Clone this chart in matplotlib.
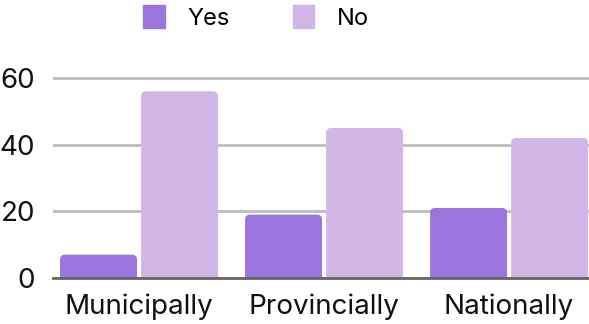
import numpy as np
import matplotlib
matplotlib.use("Agg")
import matplotlib.pyplot as plt
from matplotlib.patches import FancyBboxPatch, Patch

categories = ["Municipally", "Provincially", "Nationally"]
yes_values = [7, 19, 21]
no_values = [56, 45, 42]
series_names = ["Yes", "No"]
colors = ["#9a75dd", "#d2b7e6"]

plt.rcParams["font.family"] = ["Inter", "DejaVu Sans"]

fig = plt.figure(figsize=(5.89, 3.24), dpi=100)
ax = fig.add_axes([53 / 589, 46 / 324, 536 / 589, 216 / 324])

x = np.arange(len(categories))
width = 0.416
gap = 0.022
ax.set_xlim(-0.465, 2.432)
ax.set_ylim(0, 64.8)

# px per unit, to keep the corner rounding round
x_px = 536 / (2.432 + 0.465)
y_px = 216 / 64.8
aspect = x_px / y_px
r = 5 / x_px

for vals, off, col in [(yes_values, -(width + gap) / 2, colors[0]),
                       (no_values, (width + gap) / 2, colors[1])]:
    bars = ax.bar(x + off, vals, width, color=col, alpha=0)
    for b in bars:
        p = FancyBboxPatch((b.get_x(), -3), b.get_width(), b.get_height() + 3,
                           boxstyle=f"round,pad=0,rounding_size={r}",
                           mutation_aspect=aspect, fc=col, ec="none", zorder=2)
        ax.add_patch(p)

ax.set_yticks([0, 20, 40, 60])
ax.yaxis.grid(True, color="#bdbdbd", linewidth=2)
ax.set_axisbelow(True)
for s in ["top", "right", "left"]:
    ax.spines[s].set_visible(False)
ax.spines["bottom"].set_color("#666666")
ax.spines["bottom"].set_linewidth(2)
ax.spines["bottom"].set_zorder(3)
ax.set_xticks(x)
ax.set_xticklabels(categories)
ax.tick_params(axis="both", length=0, labelsize=20, colors="#111111")
ax.tick_params(axis="y", pad=13)
ax.tick_params(axis="x", pad=11)

handles = [Patch(color=colors[0], label=series_names[0]),
           Patch(color=colors[1], label=series_names[1])]
fig.legend(handles=handles, loc="upper center", bbox_to_anchor=(256 / 589, 1.05),
           ncol=2, frameon=False, fontsize=17, handlelength=0.9, handleheight=1.15,
           handletextpad=0.95, columnspacing=2.7)

fig.savefig("out.png", dpi=100)
